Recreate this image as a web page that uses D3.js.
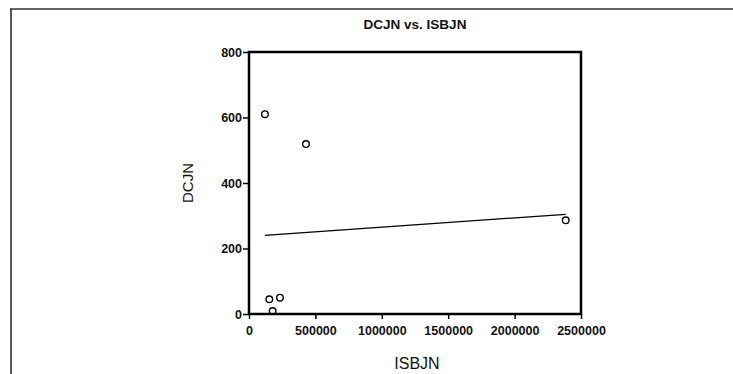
<!DOCTYPE html>
<html><head><meta charset="utf-8">
<script src="https://cdn.jsdelivr.net/npm/d3@7"></script>
<style>body{margin:0;background:#fff}svg{display:block}text{font-family:"Liberation Sans",Arial,sans-serif;fill:#111}</style>
</head><body>
<script>
const title = "DCJN vs. ISBJN";
const xLabel = "ISBJN";
const yLabel = "DCJN";
const isbjn = [120000, 429000, 153000, 233000, 178000, 2385000];
const dcjn = [610, 519, 45, 50, 9, 286];
const xTicks = [0, 500000, 1000000, 1500000, 2000000, 2500000];
const yTicks = [0, 200, 400, 600, 800];

const W = 733, H = 374;
const svg = d3.select("body").append("svg").attr("width", W).attr("height", H);
const m = {l: 249, t: 52, r: 581, b: 314};
const x = d3.scaleLinear().domain([0, 2500000]).range([m.l, m.r]);
const y = d3.scaleLinear().domain([0, 800]).range([m.b, m.t]);

// outer frame (top and left)
svg.append("line").attr("x1", 10).attr("x2", W).attr("y1", 9).attr("y2", 9).attr("stroke", "#333").attr("stroke-width", 1.5);
svg.append("line").attr("x1", 11).attr("x2", 11).attr("y1", 9).attr("y2", H).attr("stroke", "#222").attr("stroke-width", 1.5);

svg.append("text").attr("x", (m.l + m.r) / 2).attr("y", 29).attr("text-anchor", "middle")
  .style("font-size", "13.5px").style("font-weight", "bold").text(title);

// plot frame
svg.append("rect").attr("x", m.l).attr("y", m.t).attr("width", m.r - m.l).attr("height", m.b - m.t)
  .attr("fill", "none").attr("stroke", "#000").attr("stroke-width", 2.5);

const xa = svg.append("g").attr("transform", `translate(0,${m.b})`)
  .call(d3.axisBottom(x).tickValues(xTicks).tickSize(5).tickPadding(7).tickFormat(d3.format("d")));
const ya = svg.append("g").attr("transform", `translate(${m.l},0)`)
  .call(d3.axisLeft(y).tickValues(yTicks).tickSize(6).tickPadding(1).tickFormat(d3.format("d")));
[xa, ya].forEach(a => {
  a.select(".domain").remove();
  a.selectAll("line").attr("stroke", "#000").attr("stroke-width", 1.5);
  a.selectAll("text").style("font-size", "12.5px").style("font-weight", "bold")
    .style("font-family", "'Liberation Sans',Arial,sans-serif").attr("fill", "#111");
});

svg.append("text").attr("x", (m.l + m.r) / 2 + 2).attr("y", 369).attr("text-anchor", "middle")
  .style("font-size", "16px").text(xLabel);
svg.append("text").attr("transform", `translate(193,${(m.t + m.b) / 2}) rotate(-90)`).attr("text-anchor", "middle")
  .style("font-size", "15px").text(yLabel);

// regression line computed from data
const mx = d3.mean(isbjn), my = d3.mean(dcjn);
const slope = d3.sum(isbjn, (v, i) => (v - mx) * (dcjn[i] - my)) / d3.sum(isbjn, v => (v - mx) ** 2);
const icpt = my - slope * mx;
const ext = d3.extent(isbjn);
svg.append("path").attr("d", d3.line()(ext.map(v => [x(v), y(icpt + slope * v)])))
  .attr("stroke", "#000").attr("stroke-width", 1.3).attr("fill", "none");

svg.selectAll("circle.pt").data(isbjn).join("circle").attr("class", "pt")
  .attr("cx", d => x(d)).attr("cy", (d, i) => y(dcjn[i])).attr("r", 3.3)
  .attr("fill", "none").attr("stroke", "#000").attr("stroke-width", 1.4);
</script>
</body></html>
